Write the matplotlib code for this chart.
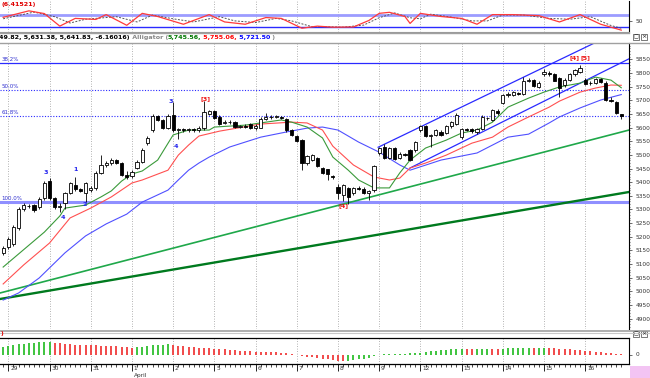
import matplotlib
matplotlib.use("Agg")
import matplotlib.pyplot as plt
import numpy as np
from matplotlib.ticker import MultipleLocator, FixedLocator

# ---------------- data ----------------
opens = [5141,5162,5173,5232,5302,5313,5316,5309,5342,
         5404,5342,5310,5323,5360,5390,5375,5360,
         5371,5378,5434,5463,5470,5481,5470,5428,
         5422,5452,5474,5543,5591,5642,5628,5600,
         5645,5591,5595,5590,5595,5590,5598,5651,
         5660,5640,5618,5622,5620,5604,5606,5612,
         5598,5600,5632,5640,5638,5640,5632,5591,
         5570,5556,5470,5482,5488,5452,5448,5422,
         5382,5353,5378,5360,5378,5376,5362,5370,
         5507,5528,5490,5525,5488,5503,5518,5518,
         5591,5605,5570,5572,5585,5580,5605,5612,
         5565,5594,5594,5584,5596,5635,5628,5660,
         5690,5718,5720,5726,5722,5772,5774,5750,
         5795,5800,5796,5782,5755,5775,5795,5805,
         5776,5762,5763,5778,5765,5702,5692,5648]
highs = [5166,5200,5243,5310,5322,5320,5320,5345,5405,
         5415,5345,5322,5365,5400,5419,5380,5400,
         5385,5440,5500,5478,5488,5485,5475,5440,
         5445,5480,5525,5570,5650,5648,5632,5650,
         5692,5600,5600,5598,5600,5605,5698,5665,
         5664,5645,5628,5628,5625,5610,5612,5618,
         5612,5640,5652,5645,5646,5644,5636,5595,
         5574,5560,5500,5505,5492,5456,5450,5426,
         5392,5392,5382,5382,5385,5382,5372,5462,
         5530,5540,5530,5530,5510,5508,5522,5550,
         5610,5608,5578,5595,5590,5608,5625,5652,
         5600,5600,5598,5600,5645,5640,5668,5668,
         5722,5730,5735,5730,5785,5782,5778,5770,
         5815,5808,5800,5786,5780,5800,5815,5828,
         5780,5770,5782,5782,5770,5712,5696,5650]
lows = [5133,5155,5166,5225,5295,5305,5292,5302,5335,
        5335,5300,5290,5300,5355,5368,5365,5327,
        5365,5370,5430,5455,5462,5466,5422,5412,
        5415,5448,5470,5535,5585,5625,5595,5595,
        5585,5560,5585,5584,5585,5585,5592,5645,
        5630,5610,5612,5615,5598,5598,5600,5596,
        5592,5598,5628,5632,5634,5630,5585,5568,
        5548,5445,5462,5478,5455,5430,5408,5412,
        5338,5330,5320,5352,5370,5356,5335,5365,
        5500,5485,5485,5480,5484,5496,5478,5512,
        5585,5565,5529,5568,5568,5576,5600,5608,
        5560,5588,5582,5578,5590,5628,5624,5648,
        5685,5712,5716,5718,5718,5766,5748,5745,
        5790,5790,5770,5712,5750,5770,5790,5800,
        5755,5755,5760,5762,5698,5694,5650,5631]
closes = [5159,5192,5236,5302,5316,5312,5298,5338,5397,
          5342,5309,5313,5360,5397,5375,5368,5397,
          5378,5434,5463,5470,5481,5470,5428,5420,
          5437,5474,5518,5562,5642,5628,5600,5642,
          5591,5595,5591,5595,5590,5600,5656,5660,
          5636,5615,5622,5620,5603,5606,5604,5598,
          5606,5632,5640,5638,5642,5634,5591,5572,
          5552,5470,5495,5500,5460,5434,5430,5418,
          5360,5388,5345,5378,5376,5362,5368,5459,
          5525,5490,5525,5485,5503,5500,5481,5547,
          5605,5568,5572,5591,5572,5605,5620,5647,
          5596,5592,5586,5596,5640,5634,5664,5652,
          5718,5724,5730,5724,5772,5776,5752,5765,
          5805,5796,5772,5745,5775,5796,5810,5820,
          5760,5765,5778,5766,5702,5697,5655,5642]

day_labels = ['29', '30', '31', '1', '2', '5', '6', '7', '8', '9', '12', '13', '14', '15', '16']
month_label = 'April'
month_day_index = 3
bars_per_day = 8
first_day_bar = 1

# Alligator lines (bar index, price)
lips_x = [0, 8, 11, 12, 16, 19, 21, 23, 25, 27, 30, 33, 36, 40, 41, 47, 54, 56, 59, 62, 64, 67, 69, 72, 75, 77, 79, 82, 86, 89, 92, 95, 98, 102, 105, 108, 112, 115, 118, 120]
lips_y = [5089, 5217, 5276, 5305, 5316, 5346, 5368, 5404, 5430, 5441, 5481, 5573, 5591, 5591, 5602, 5609, 5628, 5620, 5602, 5562, 5492, 5444, 5408, 5379, 5379, 5434, 5481, 5525, 5554, 5580, 5591, 5620, 5675, 5708, 5730, 5749, 5763, 5785, 5774, 5746]
teeth_x = [0, 4, 9, 13, 17, 21, 25, 27, 32, 34, 36, 38, 42, 50, 56, 59, 62, 64, 68, 72, 75, 77, 79, 82, 86, 91, 95, 98, 102, 106, 108, 112, 115, 118, 120]
teeth_y = [5027, 5097, 5177, 5269, 5305, 5346, 5397, 5408, 5444, 5499, 5536, 5569, 5587, 5613, 5620, 5617, 5591, 5532, 5463, 5419, 5408, 5415, 5452, 5470, 5499, 5543, 5565, 5602, 5639, 5675, 5697, 5730, 5745, 5756, 5755]
jaw_x = [0, 3, 7, 12, 16, 20, 24, 27, 32, 34, 36, 38, 40, 44, 50, 55, 59, 62, 65, 69, 73, 77, 79, 85, 92, 95, 98, 102, 106, 108, 112, 116, 120]
jaw_y = [4968, 4994, 5049, 5141, 5203, 5247, 5283, 5327, 5371, 5408, 5444, 5470, 5492, 5529, 5565, 5584, 5598, 5602, 5591, 5547, 5510, 5463, 5444, 5481, 5507, 5536, 5565, 5576, 5617, 5639, 5672, 5701, 5721]

# Fibonacci retracement levels
fib_labels = ['38.2%', '50.0%', '61.8%', '100.0%']
fib_values = [5836, 5739, 5642, 5328]

# trend / channel lines (bar index, price)
trend_light_x = [-0.6, 121.5]
trend_light_y = [4994, 5591]
trend_dark_x = [-0.6, 121.5]
trend_dark_y = [4972, 5364]
chan_up_x = [72.8, 121.5]
chan_up_y = [5528, 5971]
chan_lo_x = [79.0, 121.5]
chan_lo_y = [5452, 5852]

# wave labels (bar index, price, text, colour key)
wave_x = [8.3, 11.6, 14.1, 15.9, 32.6, 33.6, 39.2, 66.0, 111.0, 113.0]
wave_y = [5437, 5272, 5448, 5320, 5694, 5532, 5708, 5313, 5855, 5855]
wave_t = ['3', '4', '1', '2', '3', '4', '[3]', '[4]', '[4]', '[5]']
wave_c = ['b', 'b', 'b', 'b', 'b', 'b', 'r', 'r', 'r', 'r']

# stochastic (bar index, value)
stk_x = [0, 5, 8, 11, 14, 18, 20, 24, 27, 30, 35, 40, 43, 47, 51, 54, 58, 61, 64, 68, 71, 73, 75, 78, 79, 81, 85, 89, 92, 95, 99, 104, 108, 112, 116, 120]
stk_y = [67, 98, 85, 25, 62, 57, 80, 29, 86, 71, 34, 80, 45, 34, 66, 62, 15, 25, 20, 21, 52, 86, 91, 71, 38, 86, 71, 62, 34, 80, 80, 75, 45, 80, 34, 6]
sig_x = [0, 6, 10, 13, 16, 20, 22, 26, 29, 33, 37, 42, 45, 49, 53, 56, 60, 63, 66, 70, 73, 76, 79, 81, 83, 87, 91, 94, 97, 101, 106, 110, 114, 118, 120]
sig_y = [60, 92, 70, 40, 58, 66, 70, 45, 78, 60, 45, 70, 50, 42, 62, 50, 22, 22, 20, 30, 65, 88, 65, 60, 82, 68, 50, 50, 78, 78, 62, 58, 70, 28, 15]
stoch_levels = [80, 20]

# oscillator histogram, one value per bar
osc = [78, 85, 95, 105, 110, 115, 120, 124, 126,
       126, 120, 114, 108, 103, 100, 97, 95,
       93, 92, 90, 88, 85, 82, 78, 72,
       68, 72, 80, 88, 95, 98, 100, 101,
       96, 90, 84, 78, 72, 68, 64, 62,
       60, 56, 52, 48, 44, 40, 36, 33,
       30, 28, 27, 26, 24, 20, 14, 6,
       -5, -15, -22, -28, -33, -40, -48, -56,
       -62, -68, -66, -58, -48, -40, -30, -18,
       -4, 4, 6, 8, 9, 10, 12, 16,
       20, 26, 32, 40, 46, 50, 55, 57,
       58, 56, 55, 58, 60, 60, 59, 58,
       60, 62, 63, 63, 64, 66, 65, 66,
       67, 64, 62, 58, 55, 52, 49, 45,
       40, 35, 28, 22, 17, 13, 10, 7]

info_parts = [("49.82, 5,631.38, 5,641.83, -6.16016)", "#000000"),
              (" Alligator (", "#888888"),
              ("5,745.56,", "#007700"),
              (" 5,755.06,", "#ff0000"),
              (" 5,721.50", "#0000ff"),
              (" )", "#888888")]

# ---------------- layout ----------------
W, H = 650, 378
fig = plt.figure(figsize=(W / 100, H / 100), dpi=100)
fig.patch.set_facecolor("white")


def add_ax(x0, y0, x1, y1):
    return fig.add_axes([x0 / W, 1 - y1 / H, (x1 - x0) / W, (y1 - y0) / H])


XMIN, XMAX = -0.61, 121.5
FS = 4.2
BLUE = "#2a2aff"

ax_st = add_ax(0, 1, 629, 32)
ax = add_ax(0, 43, 629, 329)
ax_ao = add_ax(0, 338, 629, 364)

n = len(closes)
idx = np.arange(n)
day_starts = [first_day_bar + k * bars_per_day for k in range(len(day_labels))]

for a in (ax_st, ax, ax_ao):
    a.set_xlim(XMIN, XMAX)
    a.set_facecolor("white")
    for s in ("left", "top"):
        a.spines[s].set_visible(False)
    a.spines["right"].set_color("black")
    a.spines["right"].set_linewidth(0.8)
    a.yaxis.tick_right()
    a.tick_params(axis="y", labelsize=FS, length=2, width=0.5, pad=2.5, colors="#333333")
    a.tick_params(axis="y", which="minor", length=1, width=0.4)
    for d in day_starts:
        a.axvline(d, color="#9a9a9a", lw=0.6, ls=(0, (1, 2)), zorder=0)

# ---- main panel ----
ax.set_ylim(4862, 5910)
ax.spines["bottom"].set_visible(False)
ax.set_xticks([])
ax.yaxis.set_major_locator(FixedLocator(list(range(4900, 5851, 50))))
ax.yaxis.set_minor_locator(MultipleLocator(10))

# fibonacci lines
ax.axhline(fib_values[0], color=BLUE, lw=0.9, zorder=1)
ax.axhline(fib_values[1], color=BLUE, lw=0.8, ls=(0, (1, 1.5)), zorder=1)
ax.axhline(fib_values[2], color=BLUE, lw=0.8, ls=(0, (1, 1.5)), zorder=1)
ax.axhline(fib_values[3], color="#8f8fff", lw=2.2, zorder=1)
for lab, v in zip(fib_labels, fib_values):
    ax.text(XMIN + 0.3, v + 4, lab, color="#3030d0", fontsize=4.0, va="bottom", ha="left")

# trend lines
ax.plot(trend_light_x, trend_light_y, color="#1fa84a", lw=1.2, zorder=2)
ax.plot(trend_dark_x, trend_dark_y, color="#007a1e", lw=1.7, zorder=2)
ax.plot(chan_up_x, chan_up_y, color=BLUE, lw=0.9, zorder=2)
ax.plot(chan_lo_x, chan_lo_y, color=BLUE, lw=0.9, zorder=2)

# alligator
ax.plot(jaw_x, jaw_y, color="#5050ff", lw=0.8, zorder=2)
ax.plot(teeth_x, teeth_y, color="#ff5050", lw=0.8, zorder=2)
ax.plot(lips_x, lips_y, color="#3a9a3a", lw=0.8, zorder=2)

# candles
o = np.array(opens, float)
c = np.array(closes, float)
hi = np.array(highs, float)
lo = np.array(lows, float)
up = c >= o
ax.vlines(idx, lo, hi, color="black", lw=0.6, zorder=3)
bottom = np.minimum(o, c)
height = np.maximum(np.abs(c - o), 2.0)
ax.bar(idx, height, bottom=bottom, width=0.62,
       color=np.where(up, "white", "black"), edgecolor="black", lw=0.6, zorder=4)

for x, y, t, k in zip(wave_x, wave_y, wave_t, wave_c):
    ax.text(x, y, t, color=("#2222ee" if k == "b" else "#ee1111"), fontsize=4.6,
            ha="center", va="center", fontweight="bold", zorder=5)

# ---- stochastic panel ----
ax_st.set_ylim(-3, 145)
ax_st.set_xticks([])
ax_st.spines["bottom"].set_color("#9a9a9a")
ax_st.set_yticks([50])
ax_st.axhline(stoch_levels[0], color="#9c9cff", lw=2.0, zorder=1)
ax_st.axhline(stoch_levels[1], color=BLUE, lw=1.0, zorder=1)
ax_st.plot(sig_x, sig_y, color="#555555", lw=0.7, ls=(0, (2, 1.5)), zorder=2)
ax_st.plot(stk_x, stk_y, color="#ff3a3a", lw=0.9, zorder=3)

# ---- oscillator panel ----
ax_ao.set_ylim(-95, 165)
ax_ao.spines["top"].set_visible(True)
ax_ao.spines["top"].set_color("black")
ax_ao.spines["top"].set_linewidth(0.9)
ax_ao.spines["bottom"].set_color("black")
ax_ao.spines["bottom"].set_linewidth(0.9)
ax_ao.set_yticks([0])
oa = np.array(osc, float)
prev = np.concatenate([[oa[0] - 1], oa[:-1]])
cols = np.where(oa >= prev, "#2fbf2f", "#f03c3c")
ax_ao.vlines(idx, 0, oa, colors=cols, lw=1.3)

ax_ao.set_xticks(day_starts)
ax_ao.set_xticklabels([])
ax_ao.xaxis.set_minor_locator(FixedLocator(list(idx)))
ax_ao.tick_params(axis="x", which="major", length=5, width=0.6, direction="out")
ax_ao.tick_params(axis="x", which="minor", length=2.5, width=0.5, direction="out")
for d, lab in zip(day_starts, day_labels):
    ax_ao.text(d + 0.35, -0.08, lab, transform=ax_ao.get_xaxis_transform(),
               fontsize=FS, ha="left", va="top", color="#333333")
ax_ao.text(day_starts[month_day_index] + 0.35, -0.36, month_label,
           transform=ax_ao.get_xaxis_transform(), fontsize=FS, ha="left", va="top",
           color="#333333")


# ---------------- frame decorations ----------------
def hline(y, color, lw, x0=0, x1=629):
    fig.add_artist(plt.Line2D([x0 / W, x1 / W], [1 - y / H, 1 - y / H], color=color, lw=lw))


hline(32.5, "#a0a0a0", 1.0)
hline(42.5, "#a0a0a0", 1.0, 0, 650)
hline(330.5, "#a0a0a0", 1.2, 0, 650)
hline(332.5, "#c8c8c8", 0.8, 0, 650)

fig.add_artist(plt.Rectangle((630 / W, 0), 20 / W, 12 / H, color="#f3c4f3", lw=0))


def icons(y):
    for xx in (633, 641):
        fig.add_artist(plt.Rectangle((xx / W, 1 - (y + 3) / H), 6 / W, 6 / H,
                                     facecolor="white", edgecolor="#444444", lw=0.5))
    fig.text(644 / W, 1 - y / H, "×", fontsize=4.5, ha="center", va="center", color="#222222")
    fig.text(636 / W, 1 - y / H, "□", fontsize=3.5, ha="center", va="center", color="#222222")


icons(37)
icons(334)

fig.text(1 / W, 1 - 4.5 / H, "(6.41521)", color="#e00000", fontsize=4.6, fontweight="bold",
         va="center", ha="left")
fig.text(1 / W, 1 - 334 / H, ")", color="#e00000", fontsize=4.6, fontweight="bold",
         va="center", ha="left")

# info line with coloured segments
renderer = fig.canvas.get_renderer()
xpos = -1.0
for txt, col in info_parts:
    t = fig.text(xpos / W, 1 - 37 / H, txt, color=col, fontsize=4.6, fontweight="bold",
                 va="center", ha="left")
    bb = t.get_window_extent(renderer=renderer)
    xpos += bb.width

fig.savefig("out.png", dpi=100, facecolor="white")
